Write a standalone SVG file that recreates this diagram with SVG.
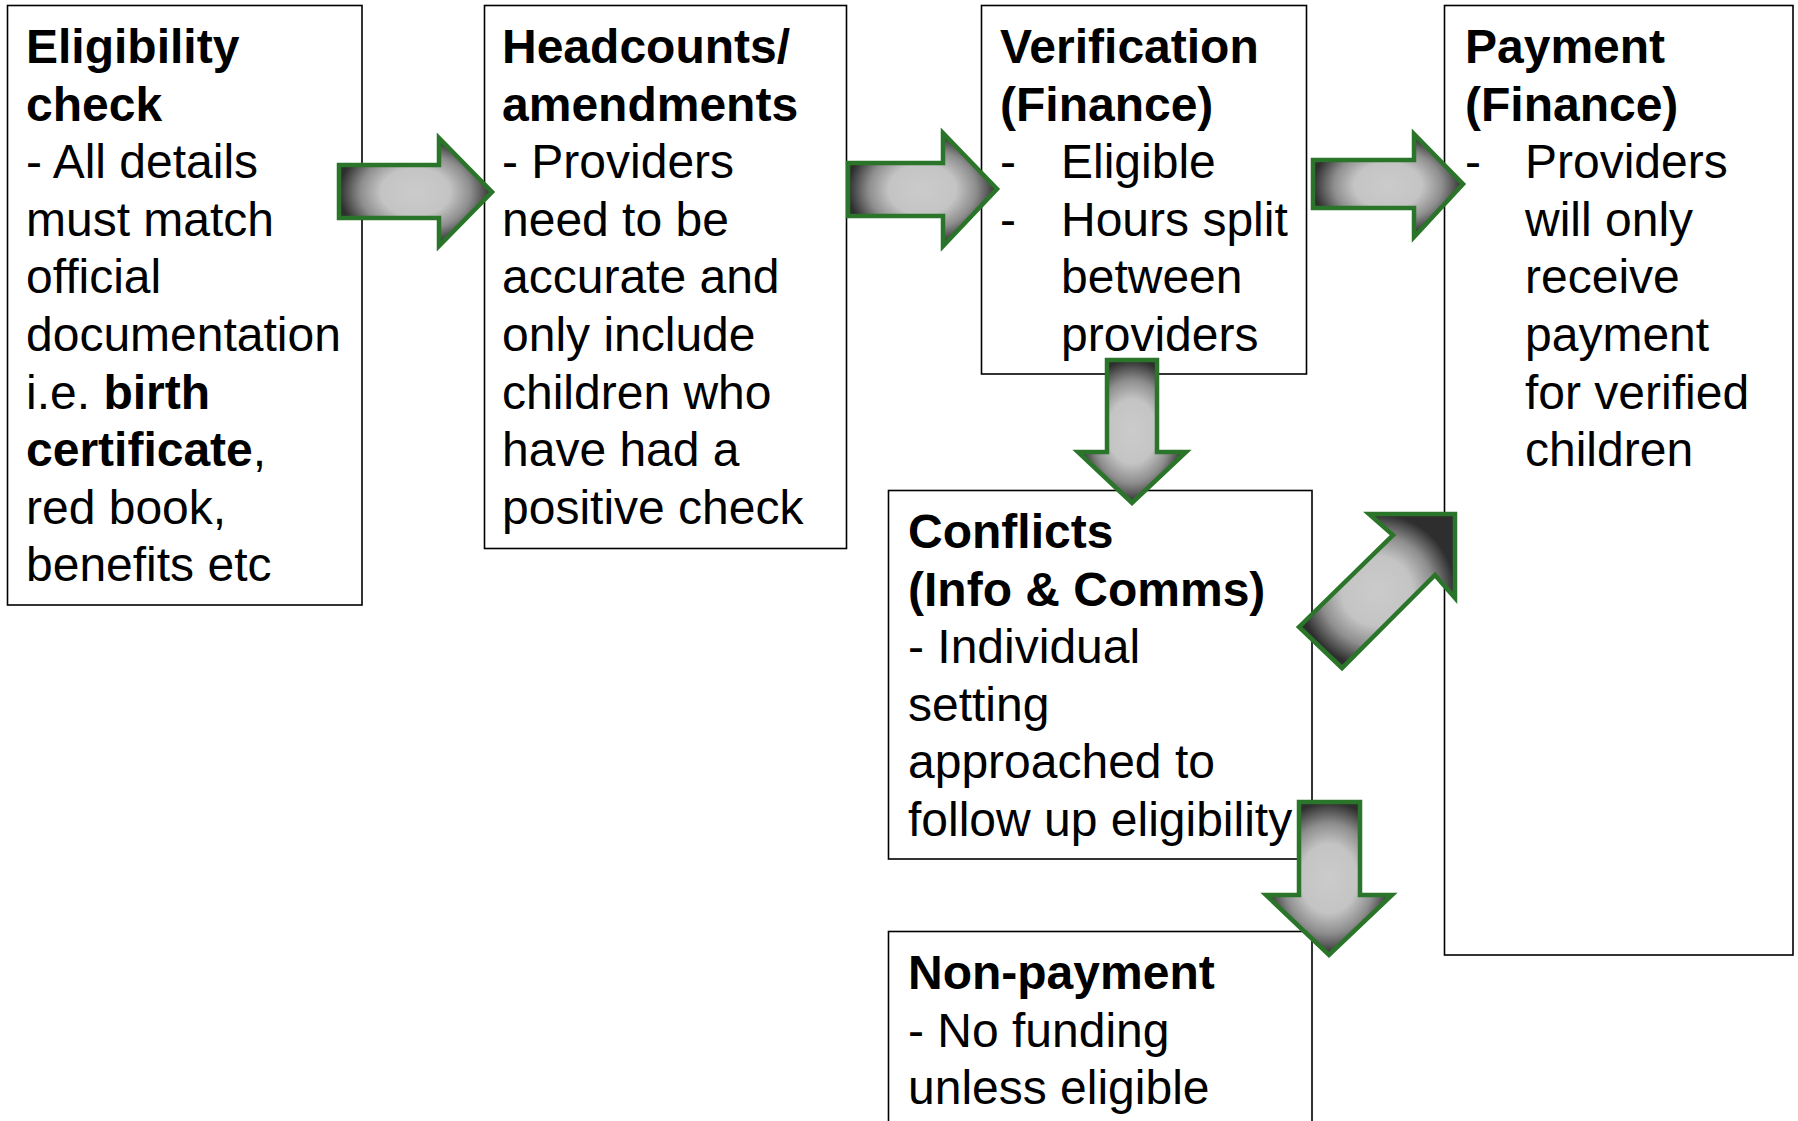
<svg xmlns="http://www.w3.org/2000/svg" width="1798" height="1121" viewBox="0 0 1798 1121">
<style>
.box{fill:#ffffff;stroke:#000000;stroke-width:1.6}
.t{font-family:"Liberation Sans",Arial,sans-serif;font-size:48px;fill:#000000}
.b{font-weight:bold}
.arr{fill:url(#grad);stroke:#2a7529;stroke-width:4.5;stroke-linejoin:miter}
</style>
<defs>
<radialGradient id="grad" cx="0.5" cy="0.5" r="0.5" gradientUnits="objectBoundingBox">
<stop offset="0" stop-color="#cbcbcb"/>
<stop offset="0.45" stop-color="#c4c4c4"/>
<stop offset="0.72" stop-color="#8e8e8e"/>
<stop offset="1" stop-color="#2e2e2e"/>
</radialGradient>
</defs>
<g id="node-eligibility">
<rect class="box" x="7.5" y="5.5" width="354.5" height="599.5"/>
<text class="t" x="26" y="63">
<tspan class="b" x="26">Eligibility</tspan>
<tspan class="b" x="26" dy="57.6">check</tspan>
<tspan x="26" dy="57.6">- All details</tspan>
<tspan x="26" dy="57.6">must match</tspan>
<tspan x="26" dy="57.6">official</tspan>
<tspan x="26" dy="57.6">documentation</tspan>
<tspan x="26" dy="57.6">i.e. <tspan class="b">birth</tspan></tspan>
<tspan x="26" dy="57.6"><tspan class="b">certificate</tspan>,</tspan>
<tspan x="26" dy="57.6">red book,</tspan>
<tspan x="26" dy="57.6">benefits etc</tspan>
</text>
</g>
<g id="node-headcounts">
<rect class="box" x="484.5" y="5.5" width="362" height="543"/>
<text class="t" x="502" y="63">
<tspan class="b" x="502">Headcounts/</tspan>
<tspan class="b" x="502" dy="57.6">amendments</tspan>
<tspan x="502" dy="57.6">- Providers</tspan>
<tspan x="502" dy="57.6">need to be</tspan>
<tspan x="502" dy="57.6">accurate and</tspan>
<tspan x="502" dy="57.6">only include</tspan>
<tspan x="502" dy="57.6">children who</tspan>
<tspan x="502" dy="57.6">have had a</tspan>
<tspan x="502" dy="57.6">positive check</tspan>
</text>
</g>
<g id="node-verification">
<rect class="box" x="981.5" y="5.5" width="325" height="368.5"/>
<text class="t" x="1000" y="63">
<tspan class="b" x="1000">Verification</tspan>
<tspan class="b" x="1000" dy="57.6">(Finance)</tspan>
<tspan x="1000" dy="57.6">-</tspan><tspan x="1061">Eligible</tspan>
<tspan x="1000" dy="57.6">-</tspan><tspan x="1061">Hours split</tspan>
<tspan x="1061" dy="57.6">between</tspan>
<tspan x="1061" dy="57.6">providers</tspan>
</text>
</g>
<g id="node-payment">
<rect class="box" x="1444.5" y="5.5" width="348.5" height="949.5"/>
<text class="t" x="1465" y="63">
<tspan class="b" x="1465">Payment</tspan>
<tspan class="b" x="1465" dy="57.6">(Finance)</tspan>
<tspan x="1465" dy="57.6">-</tspan><tspan x="1525">Providers</tspan>
<tspan x="1525" dy="57.6">will only</tspan>
<tspan x="1525" dy="57.6">receive</tspan>
<tspan x="1525" dy="57.6">payment</tspan>
<tspan x="1525" dy="57.6">for verified</tspan>
<tspan x="1525" dy="57.6">children</tspan>
</text>
</g>
<g id="node-conflicts">
<rect class="box" x="888.5" y="490.5" width="423.5" height="368.5"/>
<text class="t" x="908" y="548">
<tspan class="b" x="908">Conflicts</tspan>
<tspan class="b" x="908" dy="57.6">(Info &amp; Comms)</tspan>
<tspan x="908" dy="57.6">- Individual</tspan>
<tspan x="908" dy="57.6">setting</tspan>
<tspan x="908" dy="57.6">approached to</tspan>
<tspan x="908" dy="57.6">follow up eligibility</tspan>
</text>
</g>
<g id="node-nonpayment">
<rect class="box" x="888.5" y="931.5" width="423.5" height="200"/>
<text class="t" x="908" y="989">
<tspan class="b" x="908">Non-payment</tspan>
<tspan x="908" dy="57.6">- No funding</tspan>
<tspan x="908" dy="57.6">unless eligible</tspan>
</text>
</g>
<g id="connectors">
<polygon class="arr" points="339,165 439,165 439,138 492,192 439,246 439,218 339,218"/>
<polygon class="arr" points="848,163 943,163 943,133 997,189 943,246 943,216 848,216"/>
<polygon class="arr" points="1313,160 1414,160 1414,134 1463,184 1414,237 1414,208 1313,208"/>
<polygon class="arr" points="1107,360 1157,360 1157,452 1186,452 1132,503 1078,452 1107,452"/>
<polygon class="arr" points="1299,802 1360,802 1360,895 1392,895 1329,955 1266,895 1299,895"/>
<polygon class="arr" points="1299,627 1393,535 1369,514 1455,514 1455,598 1435,575 1342,668"/>
</g>
</svg>
